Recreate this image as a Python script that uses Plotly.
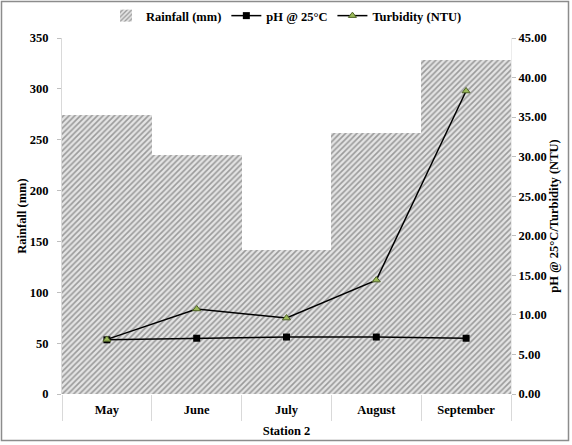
import plotly.graph_objects as go

# Monthly readings, Station 2
months = ["May", "June", "July", "August", "September"]
rainfall_mm = [274, 235, 142, 257, 328]
ph_25c = [6.85, 7.05, 7.2, 7.2, 7.05]
turbidity_ntu = [6.9, 10.75, 9.6, 14.4, 38.3]

left_ticks = [0, 50, 100, 150, 200, 250, 300, 350]
right_ticks = [0, 5, 10, 15, 20, 25, 30, 35, 40, 45]

FONT = "Liberation Serif"
W, H = 572, 445
L, R, T, B = 62, 61, 38, 51
pw, ph = W - L - R, H - T - B

fig = go.Figure()

fig.add_trace(go.Bar(
    x=months, y=rainfall_mm, name="Rainfall (mm)",
    marker=dict(
        color="white",
        line=dict(width=0),
        pattern=dict(shape="/", size=4, solidity=0.4,
                     fgcolor="#505050", bgcolor="#e4e4e4"),
    ),
    yaxis="y",
))

fig.add_trace(go.Scatter(
    x=months, y=ph_25c, name="pH @ 25°C", mode="lines+markers",
    line=dict(color="black", width=1.5),
    marker=dict(symbol="square", size=7, color="black"),
    yaxis="y2",
))

fig.add_trace(go.Scatter(
    x=months, y=turbidity_ntu, name="Turbidity (NTU)", mode="lines+markers",
    line=dict(color="black", width=1.5),
    marker=dict(symbol="triangle-up", size=7, color="#9bbb59",
                line=dict(color="#4f6228", width=1)),
    yaxis="y2",
))

tick_font = dict(family=FONT, size=12.5, color="black", weight="bold")
title_font = dict(family=FONT, size=12.5, color="black", weight="bold")

fig.update_layout(
    width=W, height=H,
    margin=dict(l=L, r=R, t=T, b=B, autoexpand=False),
    paper_bgcolor="white", plot_bgcolor="white",
    bargap=0,
    showlegend=True,
    legend=dict(orientation="h", x=0.5, xanchor="center",
                y=(ph + T - 16) / ph, yanchor="middle",
                font=dict(family=FONT, size=12.5, color="black", weight="bold"),
                itemwidth=30, tracegroupgap=0, bgcolor="rgba(0,0,0,0)"),
    xaxis=dict(
        type="category", tickson="boundaries", ticks="outside", ticklen=26,
        tickcolor="#d9d9d9", tickwidth=1, showgrid=False, automargin=False,
        showline=False, tickfont=tick_font, ticklabelstandoff=6,
        title=dict(text="Station 2", font=title_font, standoff=10),
    ),
    yaxis=dict(
        range=[0, 350], tickvals=left_ticks, ticks="outside", ticklen=4,
        tickcolor="#bfbfbf", showgrid=False, zeroline=False, automargin=False,
        showline=True, linecolor="#d9d9d9", linewidth=1,
        tickfont=tick_font, ticklabelstandoff=6,
        title=dict(text="Rainfall (mm)", font=title_font, standoff=0),
    ),
    yaxis2=dict(
        range=[0, 45], tickvals=right_ticks, tickformat=".2f",
        overlaying="y", side="right", ticks="outside", ticklen=4,
        tickcolor="#bfbfbf", showgrid=False, zeroline=False, automargin=False,
        showline=True, linecolor="#ececec", linewidth=1,
        tickfont=tick_font,
        title=dict(text="pH @ 25°C/Turbidity (NTU)", font=title_font, standoff=2),
    ),
)

# Outer chart frame
fig.add_shape(
    type="rect", xref="paper", yref="paper", layer="above",
    x0=(1.5 - L) / pw, x1=(W - 3.5 - L) / pw,
    y0=(T + ph - (H - 4.5)) / ph, y1=(T + ph - 1.5) / ph,
    line=dict(color="#8c8c8c", width=1.5), fillcolor="rgba(0,0,0,0)",
)

fig.write_html("out.html")
